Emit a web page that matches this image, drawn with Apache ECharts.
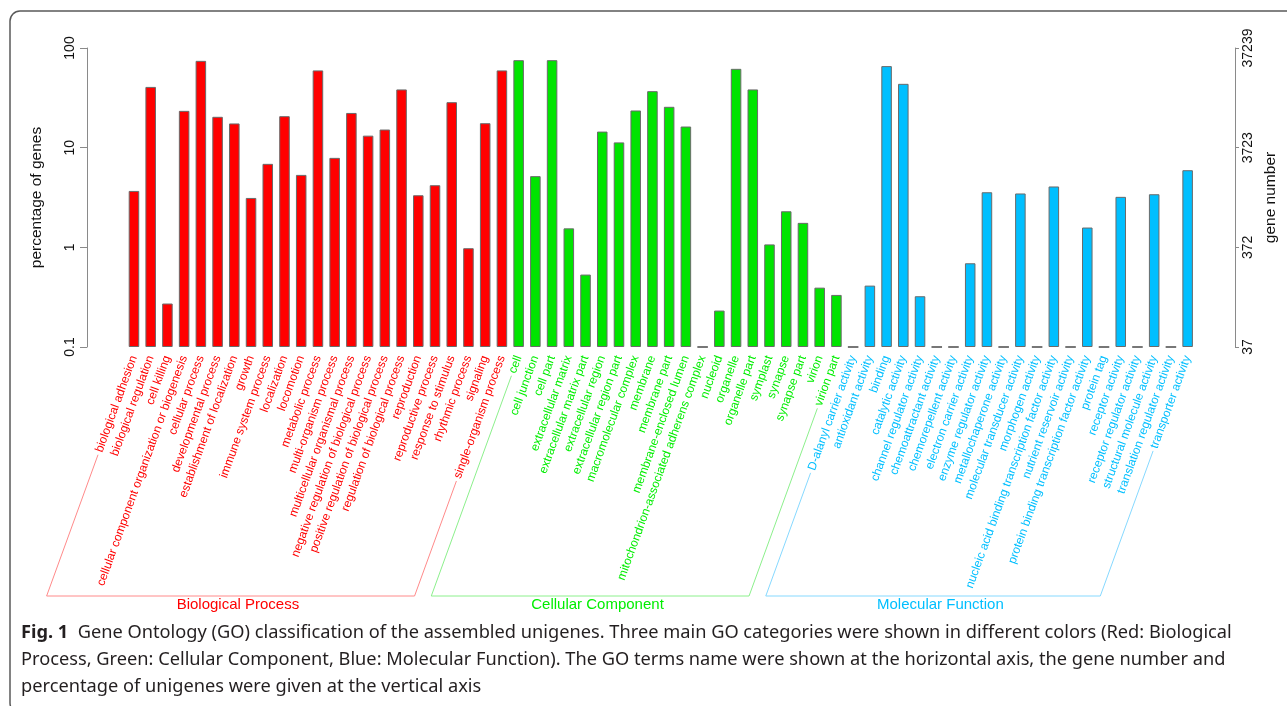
<!DOCTYPE html>
<html><head><meta charset="utf-8">
<script src="https://cdn.jsdelivr.net/npm/echarts@6/dist/echarts.min.js"></script>
<style>html,body{margin:0;padding:0;background:#fff;}#c{width:1287px;height:706px;}</style>
</head><body><div id="c"></div>
<script>
// ---------------- data ----------------
const bpTerms = ['biological adhesion','biological regulation','cell killing','cellular component organization or biogenesis','cellular process','developmental process','establishment of localization','growth','immune system process','localization','locomotion','metabolic process','multi-organism process','multicellular organismal process','negative regulation of biological process','positive regulation of biological process','regulation of biological process','reproduction','reproductive process','response to stimulus','rhythmic process','signaling','single-organism process'];
const bpValues = [3.68, 40.7, 0.273, 23.4, 74.3, 20.4, 17.5, 3.13, 6.88, 20.7, 5.33, 59.6, 7.9, 22.3, 13.2, 15.2, 38.4, 3.33, 4.2, 28.6, 0.98, 17.6, 59.6];

const ccTerms = ['cell','cell junction','cell part','extracellular matrix','extracellular matrix part','extracellular region','extracellular region part','macromolecular complex','membrane','membrane part','membrane-enclosed lumen','mitochondrion-associated adherens complex','nucleoid','organelle','organelle part','symplast','synapse','synapse part','virion','virion part'];
const ccValues = [75.5, 5.18, 75.5, 1.55, 0.533, 14.5, 11.3, 23.6, 36.9, 25.7, 16.3, 0, 0.232, 61.8, 38.4, 1.07, 2.30, 1.76, 0.394, 0.333];

const mfTerms = ['D-alanyl carrier activity','antioxidant activity','binding','catalytic activity','channel regulator activity','chemoattractant activity','chemorepellent activity','electron carrier activity','enzyme regulator activity','metallochaperone activity','molecular transducer activity','morphogen activity','nucleic acid binding transcription factor activity','nutrient reservoir activity','protein binding transcription factor activity','protein tag','receptor activity','receptor regulator activity','structural molecule activity','translation regulator activity','transporter activity'];
const mfValues = [0, 0.413, 65.8, 43.7, 0.323, 0, 0, 0.692, 3.57, 0, 3.47, 0, 4.08, 0, 1.58, 0, 3.21, 0, 3.41, 0, 5.94];

const groupNames = ['Biological Process','Cellular Component','Molecular Function'];
const leftTickLabels = ['0.1','1','10','100'];
const rightTickLabels = ['37','372','3723','37239'];
const leftAxisTitle = 'percentage of genes';
const rightAxisTitle = 'gene number';
const captionLabel = 'Fig. 1';
const captionLines = [
  '  Gene Ontology (GO) classification of the assembled unigenes. Three main GO categories were shown in different colors (Red: Biological',
  'Process, Green: Cellular Component, Blue: Molecular Function). The GO terms name were shown at the horizontal axis, the gene number and',
  'percentage of unigenes were given at the vertical axis'
];

// ---------------- styling ----------------
const FONT = '"Liberation Sans", Arial, sans-serif';
const CAP_FONT = '"Noto Sans", "Open Sans", sans-serif';
const barColors = ['#FF0000', '#00E400', '#00BFFF'];
const textColors = ['#FF0000', '#00EE00', '#00BFFF'];
const bracketColors = ['#FF8A8A', '#8CF08C', '#86D9FF'];
const AXIS_MIN = 0.1, AXIS_MAX = 100;
const ROT = 70, LABEL_MARGIN = 9, LABEL_FS = 12;

const groups = [[bpTerms, bpValues], [ccTerms, ccValues], [mfTerms, mfValues]];
const allTerms = [], groupOf = [], barData = [];
groups.forEach(([terms, vals], g) => {
  terms.forEach((t, i) => {
    allTerms.push(t); groupOf.push(g);
    const v = vals[i];
    barData.push({ value: v > 0 ? v : AXIS_MIN, itemStyle: { color: barColors[g], borderColor: v > 0 ? '#6a6a6a' : '#777777', borderWidth: v > 0 ? 1 : 2.2 } });
  });
});

const chart = echarts.init(document.getElementById('c'), null, { renderer: 'canvas' });
const logIdx = v => Math.round(Math.log10(v)) + 1;
const axisCommon = {
  type: 'log', logBase: 10, min: AXIS_MIN, max: AXIS_MAX, startValue: AXIS_MIN,
  splitLine: { show: false }, minorTick: { show: false },
  axisLine: { show: true, lineStyle: { color: '#8a8a8a', width: 1 } },
  axisTick: { show: true, length: 7, lineStyle: { color: '#8a8a8a' } },
  nameLocation: 'middle', nameRotate: 90,
  nameTextStyle: { fontSize: 15.5, color: '#111', fontFamily: FONT }
};
chart.setOption({
  animation: false,
  backgroundColor: '#fff',
  grid: { left: 125.6, right: 91, top: 48, bottom: 359 },
  xAxis: {
    type: 'category', data: allTerms,
    axisLine: { show: false }, axisTick: { show: false },
    axisLabel: { interval: 0, rotate: ROT, fontSize: LABEL_FS, margin: LABEL_MARGIN, fontFamily: FONT,
      color: (v, i) => textColors[groupOf[i]] }
  },
  yAxis: [
    Object.assign({}, axisCommon, { position: 'left', offset: 38.6, name: leftAxisTitle, nameGap: 42,
      axisLabel: { rotate: 90, fontSize: 14, color: '#111', margin: 10, fontFamily: FONT, formatter: v => leftTickLabels[logIdx(v)] } }),
    Object.assign({}, axisCommon, { position: 'right', offset: 39, name: rightAxisTitle, nameGap: 26,
      axisTick: { show: true, length: 4, lineStyle: { color: '#8a8a8a' } },
      axisLabel: { rotate: 90, fontSize: 14, color: '#111', margin: 6, fontFamily: FONT, formatter: v => rightTickLabels[logIdx(v)] } })
  ],
  series: [{ type: 'bar', data: barData, barWidth: '63%', yAxisIndex: 0 }]
});

// ---------------- annotations (brackets, group titles, caption, frame) ----------------
const ctx = document.createElement('canvas').getContext('2d');
const measure = (t, f) => { ctx.font = f; return ctx.measureText(t).width; };
const rad = ROT * Math.PI / 180, cs = Math.cos(rad), sn = Math.sin(rad);
const yBase = chart.convertToPixel({ yAxisIndex: 0 }, AXIS_MIN);
const yA = yBase + LABEL_MARGIN;
const BR_BOTTOM = 596, GAP = 3;
const graphics = [];

graphics.push({ type: 'rect', silent: true, shape: { x: 10, y: 11, width: 1400, height: 702, r: 10 },
  style: { fill: 'none', stroke: '#5a5a5a', lineWidth: 1.5 } });

let start = 0;
groups.forEach(([terms], g) => {
  const i0 = start, i1 = start + terms.length - 1;
  start += terms.length;
  const pts = [];
  [[i0, terms[0]], [i1, terms[terms.length - 1]]].forEach(([idx, name], k) => {
    const x = chart.convertToPixel({ xAxisIndex: 0 }, idx);
    const L = measure(name, LABEL_FS + 'px ' + FONT) + GAP;
    const top = [x - L * cs, yA + L * sn];
    const bot = [x - (BR_BOTTOM - yA) / Math.tan(rad), BR_BOTTOM];
    if (k === 0) { pts.push(top, bot); } else { pts.push(bot, top); }
  });
  graphics.push({ type: 'polyline', silent: true, shape: { points: pts },
    style: { stroke: bracketColors[g], lineWidth: 1, fill: 'none' } });
  const xm = (chart.convertToPixel({ xAxisIndex: 0 }, i0) + chart.convertToPixel({ xAxisIndex: 0 }, i1)) / 2 - 80;
  graphics.push({ type: 'text', silent: true, x: xm, y: 605,
    style: { text: groupNames[g], fill: textColors[g], font: '15px ' + FONT, align: 'center', verticalAlign: 'middle' } });
});

// caption font sized so that first line spans like the figure
const base = 17;
const w1 = measure(captionLabel, 'bold ' + base + 'px ' + CAP_FONT) + measure(captionLines[0], base + 'px ' + CAP_FONT);
const capFs = base * 1211 / w1;
captionLines.forEach((line, i) => {
  const txt = i === 0 ? '{b|' + captionLabel + '}{n|' + line + '}' : '{n|' + line + '}';
  graphics.push({ type: 'text', silent: true, x: 21, y: 633 + i * 27,
    style: { text: txt, align: 'left', verticalAlign: 'middle',
      rich: { b: { fontWeight: 'bold', fontSize: capFs, fontFamily: CAP_FONT, fill: '#231F20' },
              n: { fontSize: capFs, fontFamily: CAP_FONT, fill: '#231F20' } } } });
});

chart.setOption({ graphic: graphics });
</script>
</body></html>
